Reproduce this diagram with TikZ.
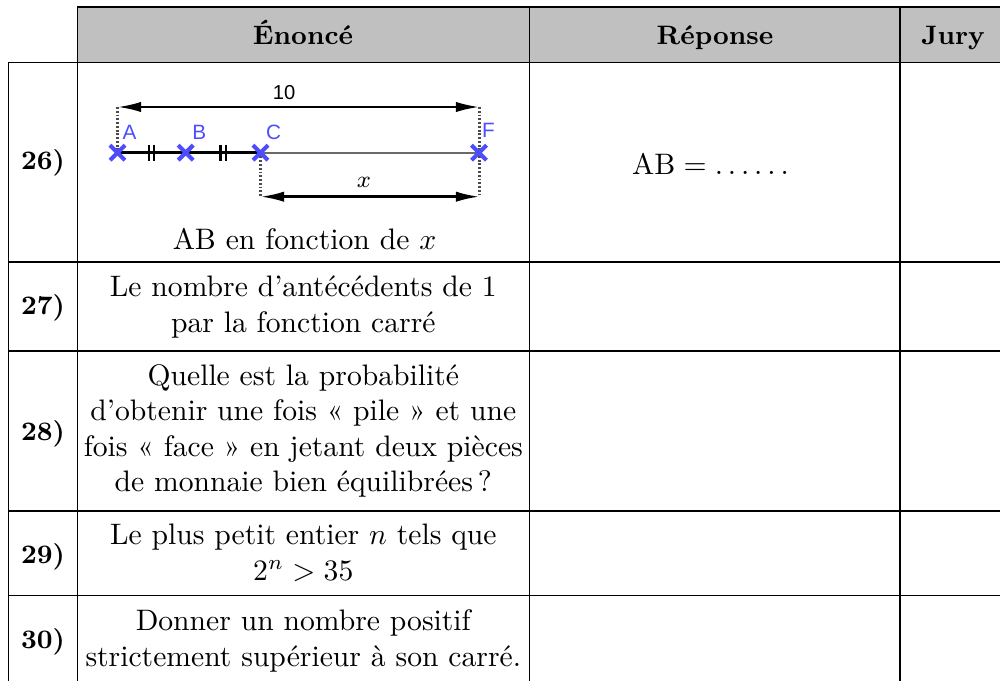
\documentclass[tikz,border=0pt]{standalone}
\usepackage{fontspec}
\newfontfamily\figsans{Liberation Sans}
\usetikzlibrary{arrows.meta}
\definecolor{hdrgray}{HTML}{C0C0C0}
\definecolor{ggblue}{HTML}{4D4DFF}
\definecolor{segray}{HTML}{6A6A6A}
\definecolor{dotgray}{HTML}{4A4A4A}
\begin{document}
\begin{tikzpicture}[x=0.3374pt,y=-0.3374pt,
  hline/.style={line width=0.5pt},
  vline/.style={line width=0.4pt},
  hdr/.style={font=\fontsize{9}{11}\selectfont\bfseries, anchor=base, inner sep=0pt},
  num/.style={font=\fontsize{9}{11}\selectfont\bfseries, anchor=base, inner sep=0pt},
  cell/.style={font=\fontsize{10}{12}\selectfont, align=center, inner sep=0pt},
  dimline/.style={line width=0.85pt, {Latex[length=8pt,width=3.5pt]}-{Latex[length=8pt,width=3.5pt]}},
  guide/.style={line width=0.85pt, draw=dotgray, dash pattern=on 0.65pt off 0.62pt},
  cross/.style={draw=ggblue, line width=1.4pt},
  ptlabel/.style={text=ggblue, font=\figsans\fontsize{7}{8}\selectfont, inner sep=0pt},
  tickmark/.style={line width=0.8pt},
]
\useasboundingbox (0,0) rectangle (1000,681);
% header background
\fill[hdrgray] (77.3,7) rectangle (1000,62.5);
% horizontal rules
\draw[hline] (77.3,7) -- (1000,7);
\foreach \yy in {62.5,262,351,511,595.7} \draw[hline] (8.5,\yy) -- (1000,\yy);
% vertical rules
\draw[vline] (8.5,62.5) -- (8.5,681);
\foreach \xx in {77.3,529.3,900} \draw[vline] (\xx,7) -- (\xx,681);
% header texts
\node[hdr] (h1) at (303,45) {Énoncé};
\node[hdr] (h2) at (715,45) {Réponse};
\node[hdr] (h3) at (953,45) {Jury};
% row numbers
\node[num] (n26) at (43,169.5) {26)};
\node[num] (n27) at (43,315) {27)};
\node[num] (n28) at (43,440.5) {28)};
\node[num] (n29) at (43,563) {29)};
\node[num] (n30) at (43,648) {30)};
% figure of row 26
\coordinate (A) at (117.5,152.7);
\coordinate (B) at (185.7,152.7);
\coordinate (C) at (260.5,152.7);
\coordinate (F) at (479,152.7);
\coordinate (At) at (117.5,107);
\coordinate (Ft) at (479.5,107);
\coordinate (Cb) at (260.5,196.7);
\coordinate (Fb) at (479.5,196.7);
\coordinate (tAB) at (151.6,152.7);
\coordinate (tBC) at (223.1,152.7);
\draw[guide] (At) -- (A);
\draw[guide] (Ft) -- (Fb);
\draw[guide] (C) -- (Cb);
\draw[dimline] (At) -- (Ft);
\draw[dimline] (Cb) -- (Fb);
\draw[line width=0.7pt, segray] (C) -- (F);
\draw[line width=0.9pt, black] (A) -- (C);
\draw[tickmark] (tAB) ++(-2.7,-8) -- ++(0,16) (tAB) ++(2.7,-8) -- ++(0,16);
\draw[tickmark] (tBC) ++(-2.7,-8) -- ++(0,16) (tBC) ++(2.7,-8) -- ++(0,16);
\foreach \p in {A,B,C,F}
  \draw[cross] (\p) ++(-7.5,-7.5) -- ++(15,15) (\p) ++(-7.5,7.5) -- ++(15,-15);
\node[ptlabel] (lA) at (129.5,132) {A};
\node[ptlabel] (lB) at (199.3,132) {B};
\node[ptlabel] (lC) at (273.5,132) {C};
\node[ptlabel] (lF) at (488.5,130) {F};
\node[font=\figsans\fontsize{6.8}{8}\selectfont, inner sep=0pt] (l10) at (284,92.7) {10};
\node[font=\fontsize{8.5}{10}\selectfont, inner sep=0pt] (lx) at (364,182) {$x$};
\node[cell, anchor=base] (c26) at (304.5,249.3) {AB en fonction de $x$};
\node[cell, anchor=base] (r26) at (710.5,174.3) {$\mathrm{AB}=\ldots\ldots$};
% other statements
\node[cell] (c27) at (303.3,307.1) {Le nombre d’antécédents de 1\\par la fonction carré};
\node[cell] (c28) at (303.3,431) {Quelle est la probabilité\\d’obtenir une fois «~pile~» et une\\fois «~face~» en jetant deux pièces\\de monnaie bien équilibrées\,?};
\node[cell] (c29) at (303.3,553) {Le plus petit entier $n$ tels que\\$2^n>35$};
\node[cell] (c30) at (303.3,640.8) {Donner un nombre positif\\strictement supérieur à son carré.};
\end{tikzpicture}
\end{document}
